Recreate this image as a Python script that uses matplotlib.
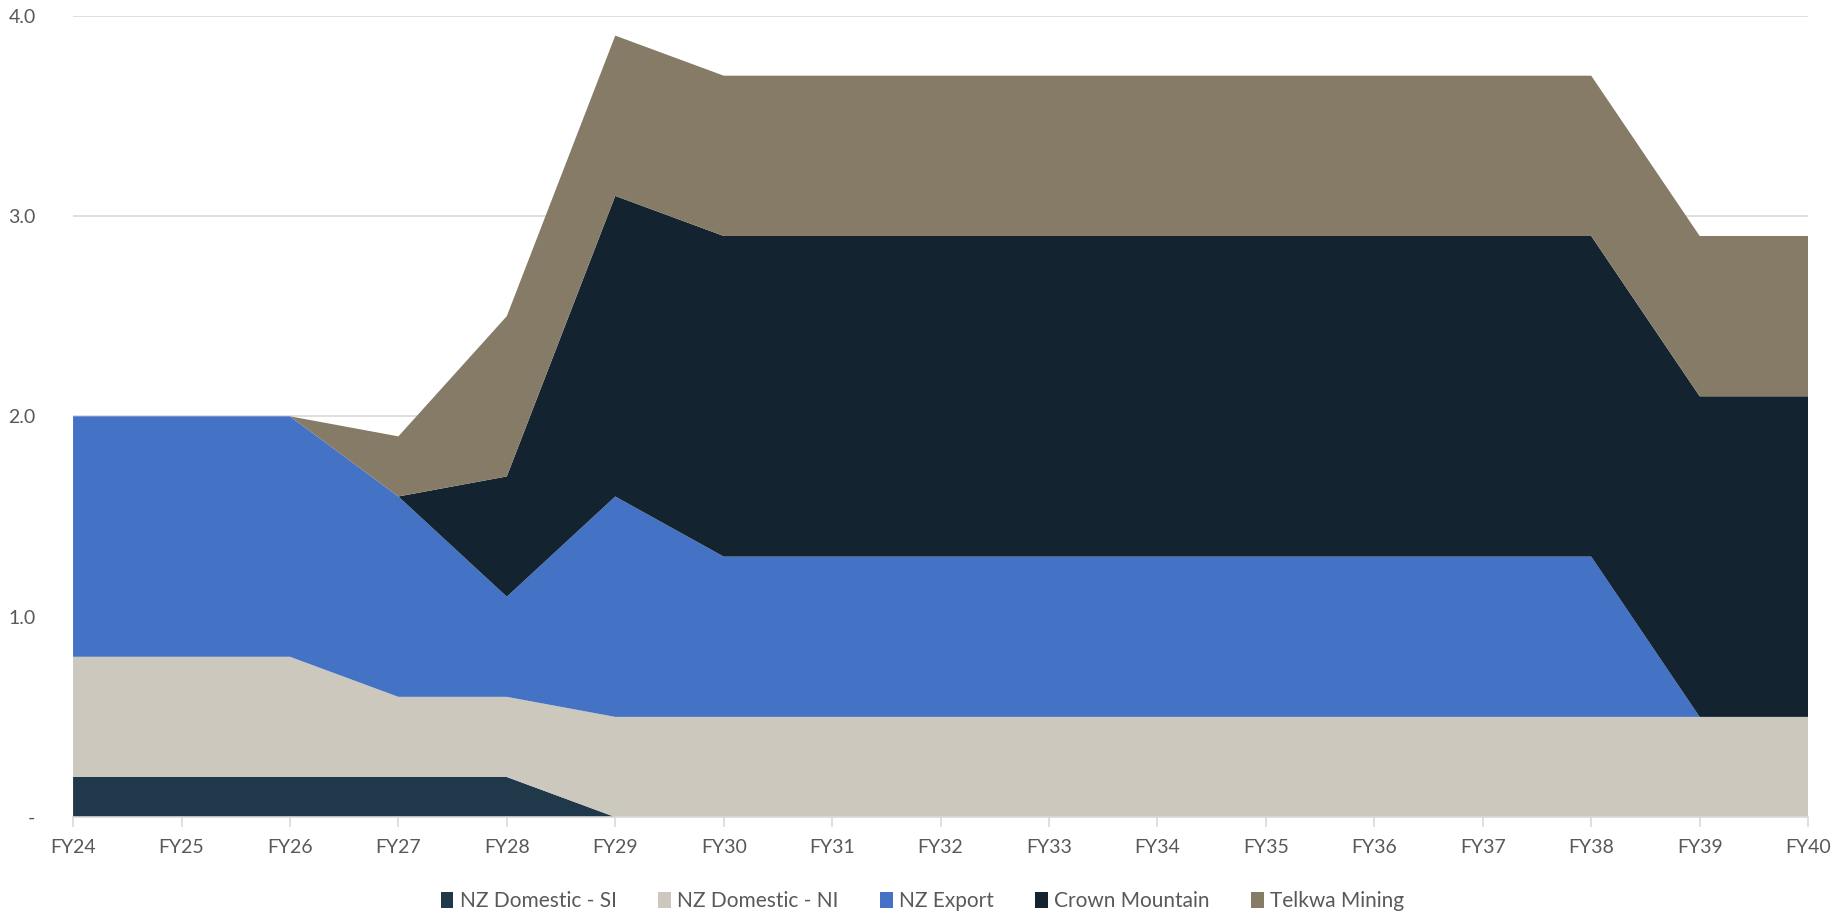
import matplotlib
matplotlib.use("Agg")
import matplotlib.pyplot as plt
import numpy as np
from matplotlib.patches import Patch

years = ["FY24", "FY25", "FY26", "FY27", "FY28", "FY29", "FY30", "FY31", "FY32",
         "FY33", "FY34", "FY35", "FY36", "FY37", "FY38", "FY39", "FY40"]

nz_domestic_si = [0.2, 0.2, 0.2, 0.2, 0.2, 0.0, 0.0, 0.0, 0.0, 0.0, 0.0, 0.0, 0.0, 0.0, 0.0, 0.0, 0.0]
nz_domestic_ni = [0.6, 0.6, 0.6, 0.4, 0.4, 0.5, 0.5, 0.5, 0.5, 0.5, 0.5, 0.5, 0.5, 0.5, 0.5, 0.5, 0.5]
nz_export = [1.2, 1.2, 1.2, 1.0, 0.5, 1.1, 0.8, 0.8, 0.8, 0.8, 0.8, 0.8, 0.8, 0.8, 0.8, 0.0, 0.0]
crown_mountain = [0.0, 0.0, 0.0, 0.0, 0.6, 1.5, 1.6, 1.6, 1.6, 1.6, 1.6, 1.6, 1.6, 1.6, 1.6, 1.6, 1.6]
telkwa_mining = [0.0, 0.0, 0.0, 0.3, 0.8, 0.8, 0.8, 0.8, 0.8, 0.8, 0.8, 0.8, 0.8, 0.8, 0.8, 0.8, 0.8]

series_names = ["NZ Domestic - SI", "NZ Domestic - NI", "NZ Export", "Crown Mountain", "Telkwa Mining"]
series_colors = ["#1f394b", "#ccc8bd", "#4472c4", "#13232f", "#857b67"]

y_ticks = [0, 1, 2, 3, 4]
y_tick_labels = ["-", "1.0", "2.0", "3.0", "4.0"]

plt.rcParams["font.family"] = ["Lato", "DejaVu Sans"]

fig = plt.figure(figsize=(18.45, 9.16), dpi=100)
ax = fig.add_axes([0.0396, 0.108, 0.9404, 0.875])

x = np.arange(len(years))
ax.stackplot(x, nz_domestic_si, nz_domestic_ni, nz_export, crown_mountain, telkwa_mining,
             colors=series_colors, linewidth=0)

ax.set_xlim(0, len(years) - 1)
ax.set_ylim(0, 4)
ax.set_yticks(y_ticks)
ax.set_yticklabels(y_tick_labels)
ax.set_xticks(x)
ax.set_xticklabels(years)

ax.grid(axis="y", color="#d9d9d9", linewidth=1.2, zorder=0)
ax.set_axisbelow(True)
for side in ["top", "right", "left"]:
    ax.spines[side].set_visible(False)
ax.spines["bottom"].set_color("#d9d9d9")
ax.spines["bottom"].set_linewidth(1.2)

ax.tick_params(axis="y", length=0, pad=27, labelsize=14, labelcolor="#595959")
ax.tick_params(axis="x", length=7, width=1.2, color="#d9d9d9", pad=9, labelsize=14,
               labelcolor="#595959")

handles = [Patch(facecolor=c, edgecolor="none") for c in series_colors]
fig.legend(handles, series_names, loc="center", bbox_to_anchor=(0.5, 0.016), ncol=5,
           frameon=False, fontsize=15, handlelength=0.6, handleheight=0.8,
           handletextpad=0.3, columnspacing=2.0, labelcolor="#595959")

fig.savefig("out.png", dpi=100)
